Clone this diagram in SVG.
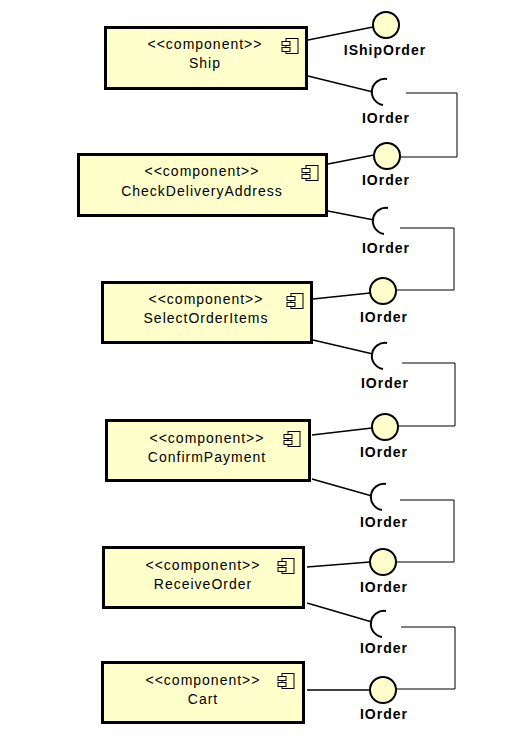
<svg xmlns="http://www.w3.org/2000/svg" width="525" height="747" viewBox="0 0 525 747">
<style>
.box{fill:#ffffcc;stroke:#000;stroke-width:3}
.ic{fill:#ffffcc;stroke:#000;stroke-width:1}
.st{font-family:"Liberation Sans",Arial,sans-serif;font-size:14px;letter-spacing:1px;text-anchor:middle;fill:#000}
.lb{font-family:"Liberation Sans",Arial,sans-serif;font-size:14px;font-weight:bold;letter-spacing:1px;text-anchor:middle;fill:#000}
.ball{fill:#ffffcc;stroke:#000;stroke-width:2}
.sock{fill:none;stroke:#000;stroke-width:2}
.lnk{fill:none;stroke:#000;stroke-width:1.4}
.con{fill:none;stroke:#000;stroke-width:1}
</style>
<rect width="525" height="747" fill="#fff"/>
<g id="connectors">
<line class="lnk" x1="308" y1="40" x2="373" y2="27"/>
<line class="lnk" x1="308" y1="76" x2="373" y2="92"/>
<line class="lnk" x1="328" y1="164" x2="374" y2="155"/>
<line class="lnk" x1="328" y1="211" x2="374" y2="220"/>
<line class="lnk" x1="313" y1="299" x2="370" y2="293"/>
<line class="lnk" x1="313" y1="340" x2="373" y2="354"/>
<line class="lnk" x1="312" y1="435" x2="372" y2="428"/>
<line class="lnk" x1="312" y1="479" x2="372" y2="496"/>
<line class="lnk" x1="307" y1="567" x2="370" y2="562"/>
<line class="lnk" x1="307" y1="603" x2="372" y2="622"/>
<line class="lnk" x1="307" y1="690" x2="370" y2="690"/>
<polyline class="con" points="406,93 457,93 457,157 400,157"/>
<polyline class="con" points="400,228 454,228 454,290 396,290"/>
<polyline class="con" points="402,363 455,363 455,426 398,426"/>
<polyline class="con" points="400,500 454,500 454,562 396,562"/>
<polyline class="con" points="401,627 455,627 455,689 396,689"/>
</g>
<g id="ship">
<rect class="box" x="105.5" y="27.5" width="201" height="61"/>
<rect class="ic" x="286" y="38.5" width="12" height="15"/>
<rect class="ic" x="282" y="41.5" width="8" height="4"/>
<rect class="ic" x="282" y="47.5" width="8" height="4"/>
<text class="st" x="205" y="49">&lt;&lt;component&gt;&gt;</text>
<text class="st" x="205" y="68">Ship</text>
</g>
<g id="checkDeliveryAddress">
<rect class="box" x="78.5" y="154.5" width="248" height="61"/>
<rect class="ic" x="306" y="165.5" width="12" height="15"/>
<rect class="ic" x="302" y="168.5" width="8" height="4"/>
<rect class="ic" x="302" y="174.5" width="8" height="4"/>
<text class="st" x="202" y="176">&lt;&lt;component&gt;&gt;</text>
<text class="st" x="202" y="196">CheckDeliveryAddress</text>
</g>
<g id="selectOrderItems">
<rect class="box" x="102.5" y="282.5" width="209" height="60"/>
<rect class="ic" x="291" y="293.5" width="12" height="15"/>
<rect class="ic" x="287" y="296.5" width="8" height="4"/>
<rect class="ic" x="287" y="302.5" width="8" height="4"/>
<text class="st" x="206" y="304">&lt;&lt;component&gt;&gt;</text>
<text class="st" x="206" y="323">SelectOrderItems</text>
</g>
<g id="confirmPayment">
<rect class="box" x="106.5" y="420.5" width="203" height="60"/>
<rect class="ic" x="288" y="431.5" width="12" height="15"/>
<rect class="ic" x="284" y="434.5" width="8" height="4"/>
<rect class="ic" x="284" y="440.5" width="8" height="4"/>
<text class="st" x="207" y="443">&lt;&lt;component&gt;&gt;</text>
<text class="st" x="207" y="462">ConfirmPayment</text>
</g>
<g id="receiveOrder">
<rect class="box" x="103.5" y="547.5" width="200" height="60"/>
<rect class="ic" x="282" y="558.5" width="12" height="15"/>
<rect class="ic" x="278" y="561.5" width="8" height="4"/>
<rect class="ic" x="278" y="567.5" width="8" height="4"/>
<text class="st" x="203" y="570">&lt;&lt;component&gt;&gt;</text>
<text class="st" x="203" y="589">ReceiveOrder</text>
</g>
<g id="cart">
<rect class="box" x="102.5" y="662.5" width="201" height="60"/>
<rect class="ic" x="282" y="673.5" width="12" height="15"/>
<rect class="ic" x="278" y="676.5" width="8" height="4"/>
<rect class="ic" x="278" y="682.5" width="8" height="4"/>
<text class="st" x="203" y="685">&lt;&lt;component&gt;&gt;</text>
<text class="st" x="203" y="704">Cart</text>
</g>
<g id="iShipOrder">
<circle class="ball" cx="386" cy="25" r="13"/>
<text class="lb" x="385" y="55">IShipOrder</text>
</g>
<g id="req1">
<path class="sock" d="M387,79 A13,13 0 0 0 383,105"/>
<text class="lb" x="386" y="123">IOrder</text>
</g>
<g id="prov2">
<circle class="ball" cx="387" cy="156" r="13"/>
<text class="lb" x="386" y="185">IOrder</text>
</g>
<g id="req2">
<path class="sock" d="M388,208 A13,13 0 0 0 384,234"/>
<text class="lb" x="386" y="253">IOrder</text>
</g>
<g id="prov3">
<circle class="ball" cx="383" cy="291" r="13"/>
<text class="lb" x="384" y="322">IOrder</text>
</g>
<g id="req3">
<path class="sock" d="M387,343 A13,13 0 0 0 383,369"/>
<text class="lb" x="385" y="388">IOrder</text>
</g>
<g id="prov4">
<circle class="ball" cx="385" cy="427" r="13"/>
<text class="lb" x="384" y="457">IOrder</text>
</g>
<g id="req4">
<path class="sock" d="M386,484 A13,13 0 0 0 382,510"/>
<text class="lb" x="384" y="527">IOrder</text>
</g>
<g id="prov5">
<circle class="ball" cx="383" cy="562" r="13"/>
<text class="lb" x="384" y="592">IOrder</text>
</g>
<g id="req5">
<path class="sock" d="M386,611 A13,13 0 0 0 382,637"/>
<text class="lb" x="384" y="653">IOrder</text>
</g>
<g id="prov6">
<circle class="ball" cx="383" cy="690" r="13"/>
<text class="lb" x="384" y="719">IOrder</text>
</g>
</svg>
